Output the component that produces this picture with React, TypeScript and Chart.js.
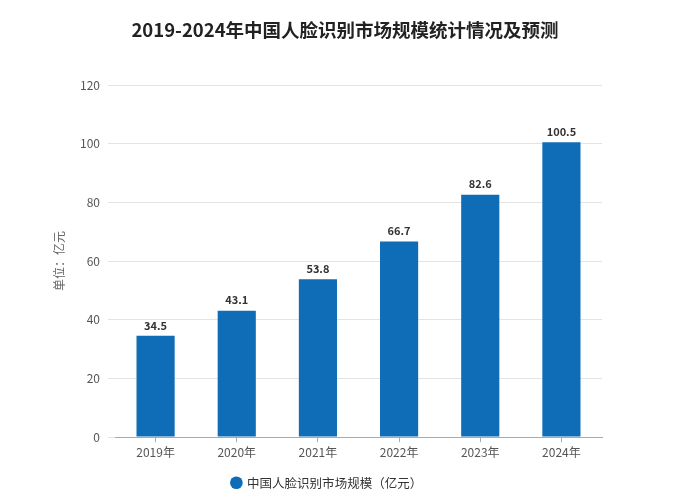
import React, { useEffect, useRef } from "react";
import { Chart, registerables } from "chart.js";

Chart.register(...registerables);

const categories = ["2019年", "2020年", "2021年", "2022年", "2023年", "2024年"];
const marketSize = [34.5, 43.1, 53.8, 66.7, 82.6, 100.5];
const seriesName = "中国人脸识别市场规模（亿元）";
const titleText = "2019-2024年中国人脸识别市场规模统计情况及预测";
const yTitle = "单位：亿元";

const FONT = "'Microsoft YaHei', 'Noto Sans CJK SC', 'Noto Sans', sans-serif";

const valueLabels = {
  id: "valueLabels",
  afterDatasetsDraw(chart: any) {
    const ctx = chart.ctx;
    const meta = chart.getDatasetMeta(0);
    ctx.save();
    ctx.font = `bold 11px ${FONT}`;
    ctx.fillStyle = "#333333";
    ctx.textAlign = "center";
    ctx.textBaseline = "bottom";
    meta.data.forEach((bar: any, i: number) => {
      ctx.fillText(String(marketSize[i]), bar.x, bar.y - 5);
    });
    ctx.restore();
  },
};

const centeredTitle = {
  id: "centeredTitle",
  afterDraw(chart: any) {
    const ctx = chart.ctx;
    ctx.save();
    ctx.font = `bold 18.5px ${FONT}`;
    ctx.fillStyle = "#222222";
    ctx.textAlign = "center";
    ctx.textBaseline = "middle";
    ctx.fillText(titleText, 345, 30);
    ctx.restore();
  },
};

export default function App() {
  const ref = useRef<HTMLCanvasElement | null>(null);
  useEffect(() => {
    document.body.style.margin = "0";
    const chart = new Chart(ref.current!, {
      type: "bar",
      data: {
        labels: categories,
        datasets: [
          {
            label: seriesName,
            data: marketSize,
            backgroundColor: "#0e6db6",
            barPercentage: 0.47,
            categoryPercentage: 1,
          },
        ],
      },
      options: {
        animation: false,
        responsive: false,
        devicePixelRatio: 1,
        layout: { padding: { left: 52, right: 95, top: 85, bottom: 3 } },
        plugins: {
          title: { display: false },
          legend: {
            position: "bottom",
            labels: {
              usePointStyle: true,
              pointStyle: "circle",
              boxWidth: 9,
              boxHeight: 9,
              color: "#333333",
              font: { size: 12.5, family: FONT },
              padding: 14,
            },
          },
          tooltip: { enabled: false },
        },
        scales: {
          x: {
            offset: true,
            grid: {
              display: true,
              drawOnChartArea: false,
              offset: false,
              tickLength: 5,
              color: "#aaaaaa",
            },
            border: { color: "#aaaaaa" },
            ticks: { color: "#555555", font: { size: 12, family: FONT }, padding: 3 },
          },
          y: {
            min: 0,
            max: 120,
            ticks: { stepSize: 20, color: "#555555", font: { size: 12, family: FONT }, padding: 8 },
            grid: { color: "#e3e3e3", tickLength: 7 },
            border: { display: false },
            title: {
              display: true,
              text: yTitle,
              color: "#666666",
              font: { size: 12, family: FONT },
              padding: 0,
            },
            afterFit(scale: any) {
              scale.width = 63;
            },
          },
        },
      },
      plugins: [valueLabels, centeredTitle],
    });
    return () => chart.destroy();
  }, []);
  return (
    <div style={{ position: "absolute", left: 0, top: 0, width: 697, height: 502, background: "#fff" }}>
      <canvas ref={ref} width={697} height={502} />
    </div>
  );
}
